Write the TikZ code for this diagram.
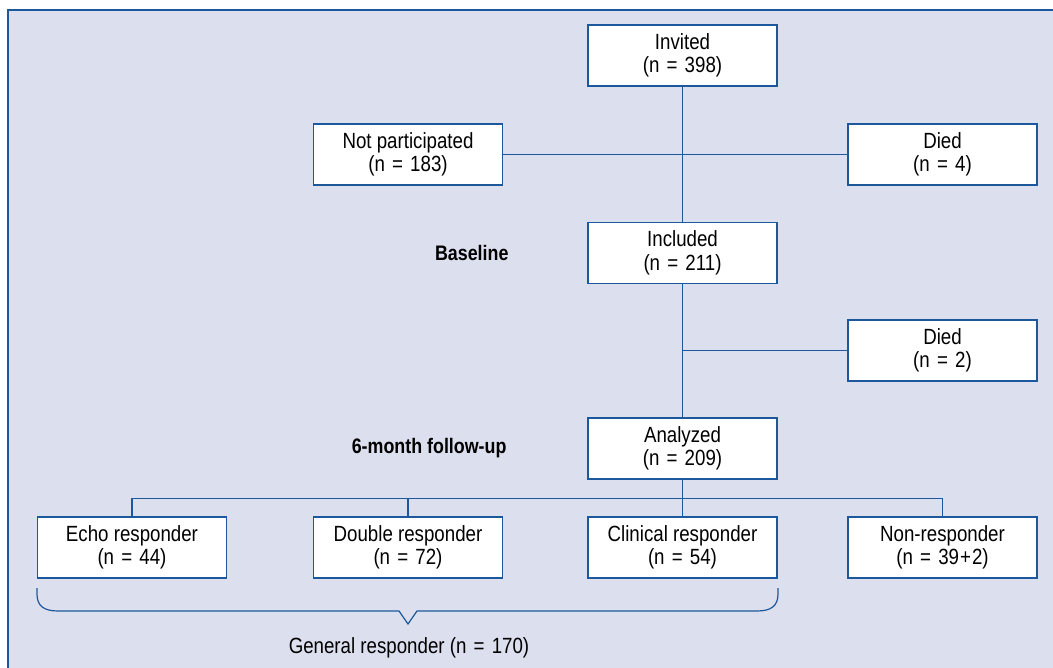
\documentclass[tikz,border=0pt]{standalone}
\usepackage{fontspec}
\setmainfont{Liberation Sans}[FakeStretch=0.85]
\definecolor{panelbg}{RGB}{220,223,238}
\definecolor{lineblue}{RGB}{30,88,156}
\newcommand{\myeq}{~\kern2pt=\kern2pt~}
\begin{document}
\begin{tikzpicture}[x=1pt,y=-1pt,
  box/.style={draw=lineblue,line width=1.3pt,fill=white,minimum width=189pt,minimum height=61pt,inner sep=0pt,align=center,font=\fontsize{22}{23.5}\selectfont},
  conn/.style={draw=lineblue,line width=1.2pt},
  phase/.style={anchor=east,font=\fontsize{21}{24}\selectfont\bfseries},
  lbl/.style={font=\fontsize{22}{24}\selectfont}]
\useasboundingbox (0,0) rectangle (1053,668);
\fill[white] (0,0) rectangle (1053,668);
\draw[draw=lineblue,line width=1.2pt,fill=panelbg] (8,10) rectangle (1065,680);
% nodes
\node[box] (inv) at (682.5,55.5) {Invited\\(n\myeq 398)};
\node[box] (np) at (408,154.5) {Not participated\\(n\myeq 183)};
\node[box] (d1) at (942.5,154.5) {Died\\(n\myeq 4)};
\node[box] (inc) at (682.5,253) {Included\\(n\myeq 211)};
\node[box] (d2) at (942.5,350.5) {Died\\(n\myeq 2)};
\node[box] (ana) at (682.5,448.5) {Analyzed\\(n\myeq 209)};
\node[box] (echo) at (132,547.5) {Echo responder\\(n\myeq 44)};
\node[box] (dbl) at (408,547.5) {Double responder\\(n\myeq 72)};
\node[box] (clin) at (682.5,547.5) {Clinical responder\\(n\myeq 54)};
\node[box] (non) at (942.5,547.5) {Non-responder\\(n\myeq 39\kern1pt+\kern1pt2)};
\node[phase] (bl) at (512,253) {Baseline};
\node[phase] (fu) at (510,448) {6-month follow-up};
\node[lbl] (gen) at (409,648) {General responder (n\myeq 170)};
\coordinate (bus) at (682.5,498.5);
\coordinate (j2) at (682.5,350.5);
\coordinate (br) at (408,624);
% connectors
\draw[conn] (inv) -- (inc);
\draw[conn] (np.east) -- (d1.west);
\draw[conn] (inc) -- (ana);
\draw[conn] (j2) -- (d2.west);
\draw[conn] (ana) -- (clin);
\draw[conn] (echo.north) |- (bus) -| (non.north);
\draw[conn] (dbl.north) -- (dbl.north |- bus);
% brace
\draw[conn] (37,588) -- (37,594) .. controls (37,606) and (44,611) .. (58,611) -- (399,611) -- (br) -- (417,611) -- (757,611) .. controls (771,611) and (778,606) .. (778,594) -- (778,588);
\end{tikzpicture}
\end{document}
